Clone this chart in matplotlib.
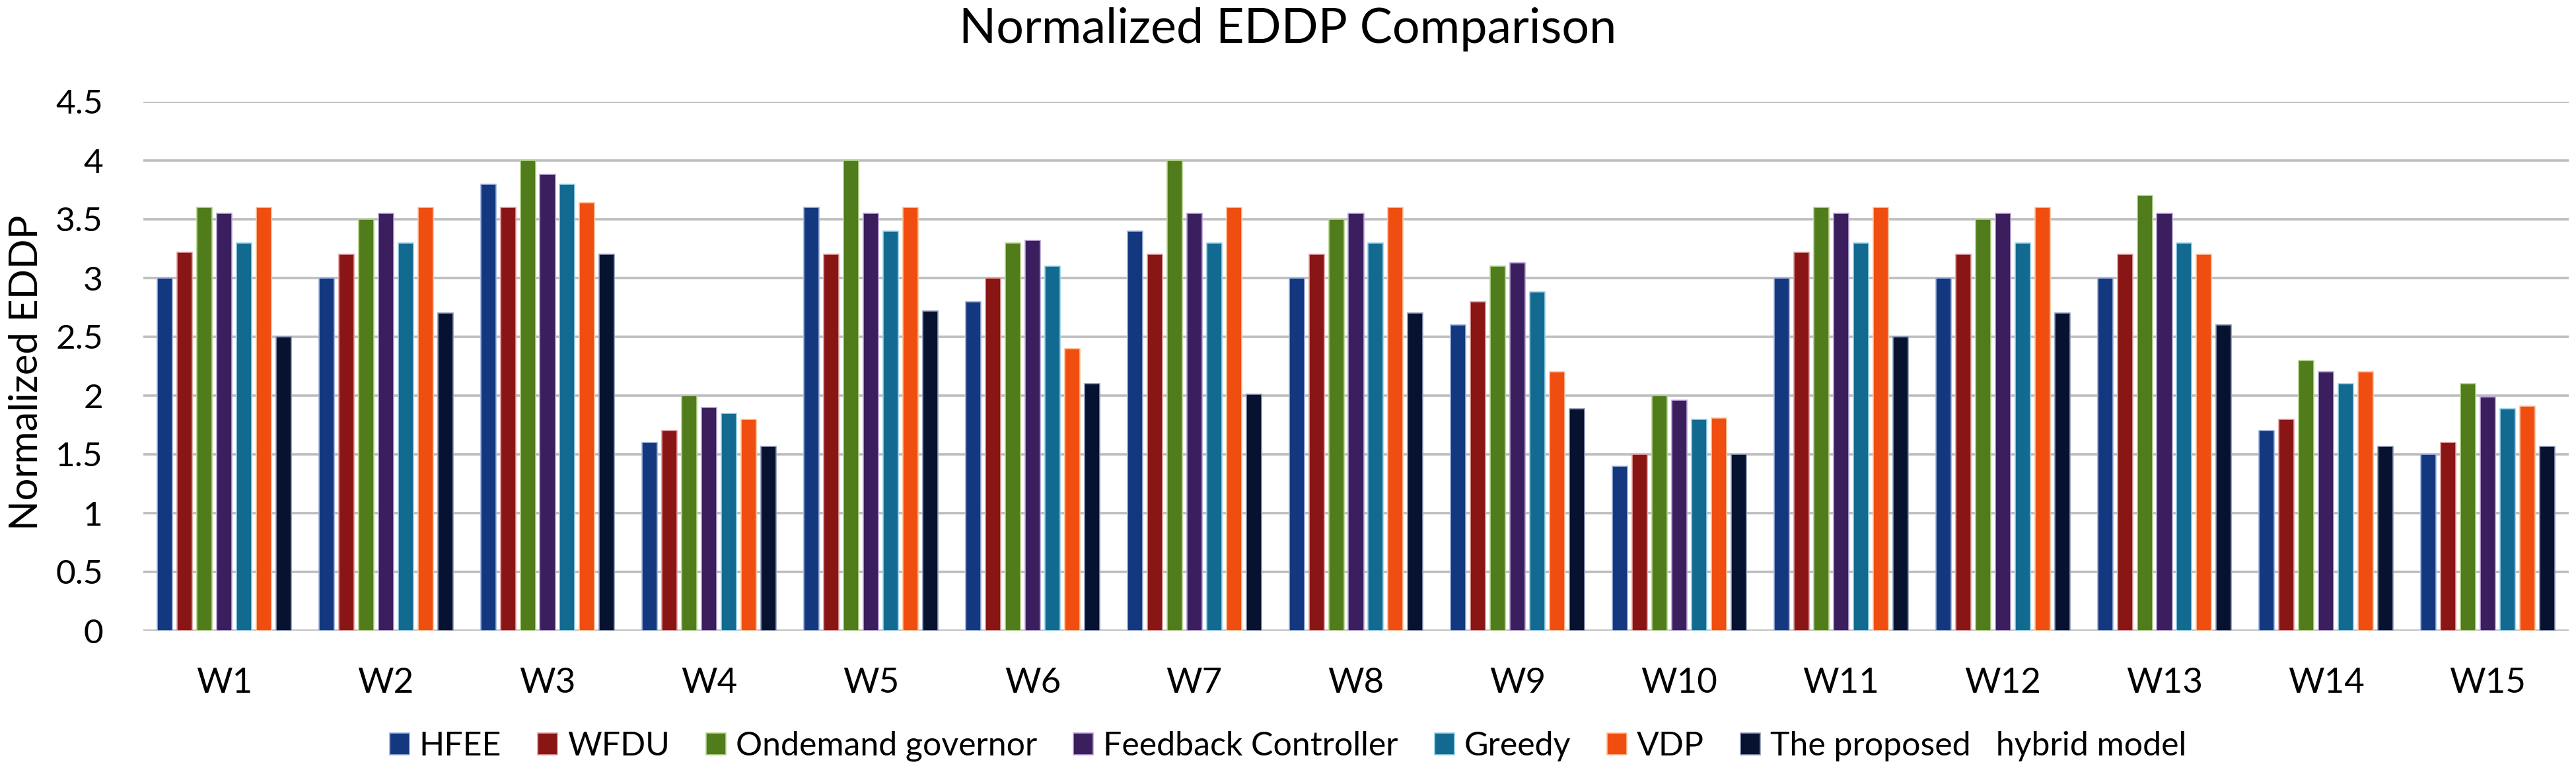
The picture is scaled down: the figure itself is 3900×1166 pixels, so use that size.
import matplotlib
matplotlib.use("Agg")
import matplotlib.pyplot as plt
import numpy as np
from matplotlib.patches import Patch

categories = ["W1", "W2", "W3", "W4", "W5", "W6", "W7", "W8", "W9", "W10",
              "W11", "W12", "W13", "W14", "W15"]
series_names = ["HFEE", "WFDU", "Ondemand governor", "Feedback Controller",
                "Greedy", "VDP", "The proposed   hybrid model"]

hfee     = [3.0, 3.0, 3.8, 1.6, 3.6, 2.8, 3.4, 3.0, 2.6, 1.4, 3.0, 3.0, 3.0, 1.7, 1.5]
wfdu     = [3.22, 3.2, 3.6, 1.7, 3.2, 3.0, 3.2, 3.2, 2.8, 1.5, 3.22, 3.2, 3.2, 1.8, 1.6]
ondemand = [3.6, 3.5, 4.0, 2.0, 4.0, 3.3, 4.0, 3.5, 3.1, 2.0, 3.6, 3.5, 3.7, 2.3, 2.1]
feedback = [3.55, 3.55, 3.88, 1.9, 3.55, 3.32, 3.55, 3.55, 3.13, 1.96, 3.55, 3.55, 3.55, 2.2, 1.99]
greedy   = [3.3, 3.3, 3.8, 1.85, 3.4, 3.1, 3.3, 3.3, 2.88, 1.8, 3.3, 3.3, 3.3, 2.1, 1.89]
vdp      = [3.6, 3.6, 3.64, 1.8, 3.6, 2.4, 3.6, 3.6, 2.2, 1.81, 3.6, 3.6, 3.2, 2.2, 1.91]
proposed = [2.5, 2.7, 3.2, 1.57, 2.72, 2.1, 2.01, 2.7, 1.89, 1.5, 2.5, 2.7, 2.6, 1.57, 1.57]

yticks = [0, 0.5, 1, 1.5, 2, 2.5, 3, 3.5, 4, 4.5]
ytick_labels = ["0", "0.5", "1", "1.5", "2", "2.5", "3", "3.5", "4", "4.5"]

colors = ["#14387F", "#8A1515", "#507C1B", "#3B1E5E", "#136A90", "#F04E10", "#061230"]
edges = ["#9DB3DC", "#E2A0A0", "#B6D48E", "#B7A4D4", "#98D2EA", "#FFC29A", "#8E9AB6"]

all_series = [hfee, wfdu, ondemand, feedback, greedy, vdp, proposed]

plt.rcParams['font.family'] = ['Lato', 'DejaVu Sans']

W, H = 3900, 1166
fig = plt.figure(figsize=(W / 100, H / 100), dpi=100)
ax = fig.add_axes([217 / W, 1 - 955 / H, (3889 - 217) / W, (955 - 154) / H])

x = np.arange(len(categories))
pitch = 0.1225
width = 0.094
for i, (vals, c, e) in enumerate(zip(all_series, colors, edges)):
    ax.bar(x + (i - 3) * pitch, vals, width=width, color=c, edgecolor=e,
           linewidth=1.2, zorder=3)

ax.set_xlim(-0.5, len(categories) - 0.5)
ax.set_ylim(0, 4.5)
ax.set_yticks(yticks)
ax.set_yticklabels(ytick_labels)
ax.set_xticks(x)
ax.set_xticklabels(categories)
ax.tick_params(axis='y', length=0, pad=44, labelsize=37)
ax.tick_params(axis='x', length=0, pad=40, labelsize=38)
for s in ax.spines.values():
    s.set_visible(False)
ax.yaxis.grid(True, color="#BDBDBD", linewidth=2.6, zorder=0)
ax.set_axisbelow(True)

fig.text(40 / W, 1 - 564 / H, "Normalized EDDP", rotation=90, ha='center',
         va='center', fontsize=43)
fig.text(0.5, 1 - 45 / H, "Normalized EDDP Comparison", ha='center', va='center',
         fontsize=53)

handles = [Patch(facecolor=c, edgecolor=e, linewidth=1.2) for c, e in zip(colors, edges)]
fig.legend(handles, series_names, loc='center', bbox_to_anchor=(0.5, 1 - 1130 / H),
           ncol=7, frameon=False, fontsize=36, handlelength=0.6, handleheight=0.65,
           handletextpad=0.3, columnspacing=1.1)

fig.savefig("out.png", dpi=100)
